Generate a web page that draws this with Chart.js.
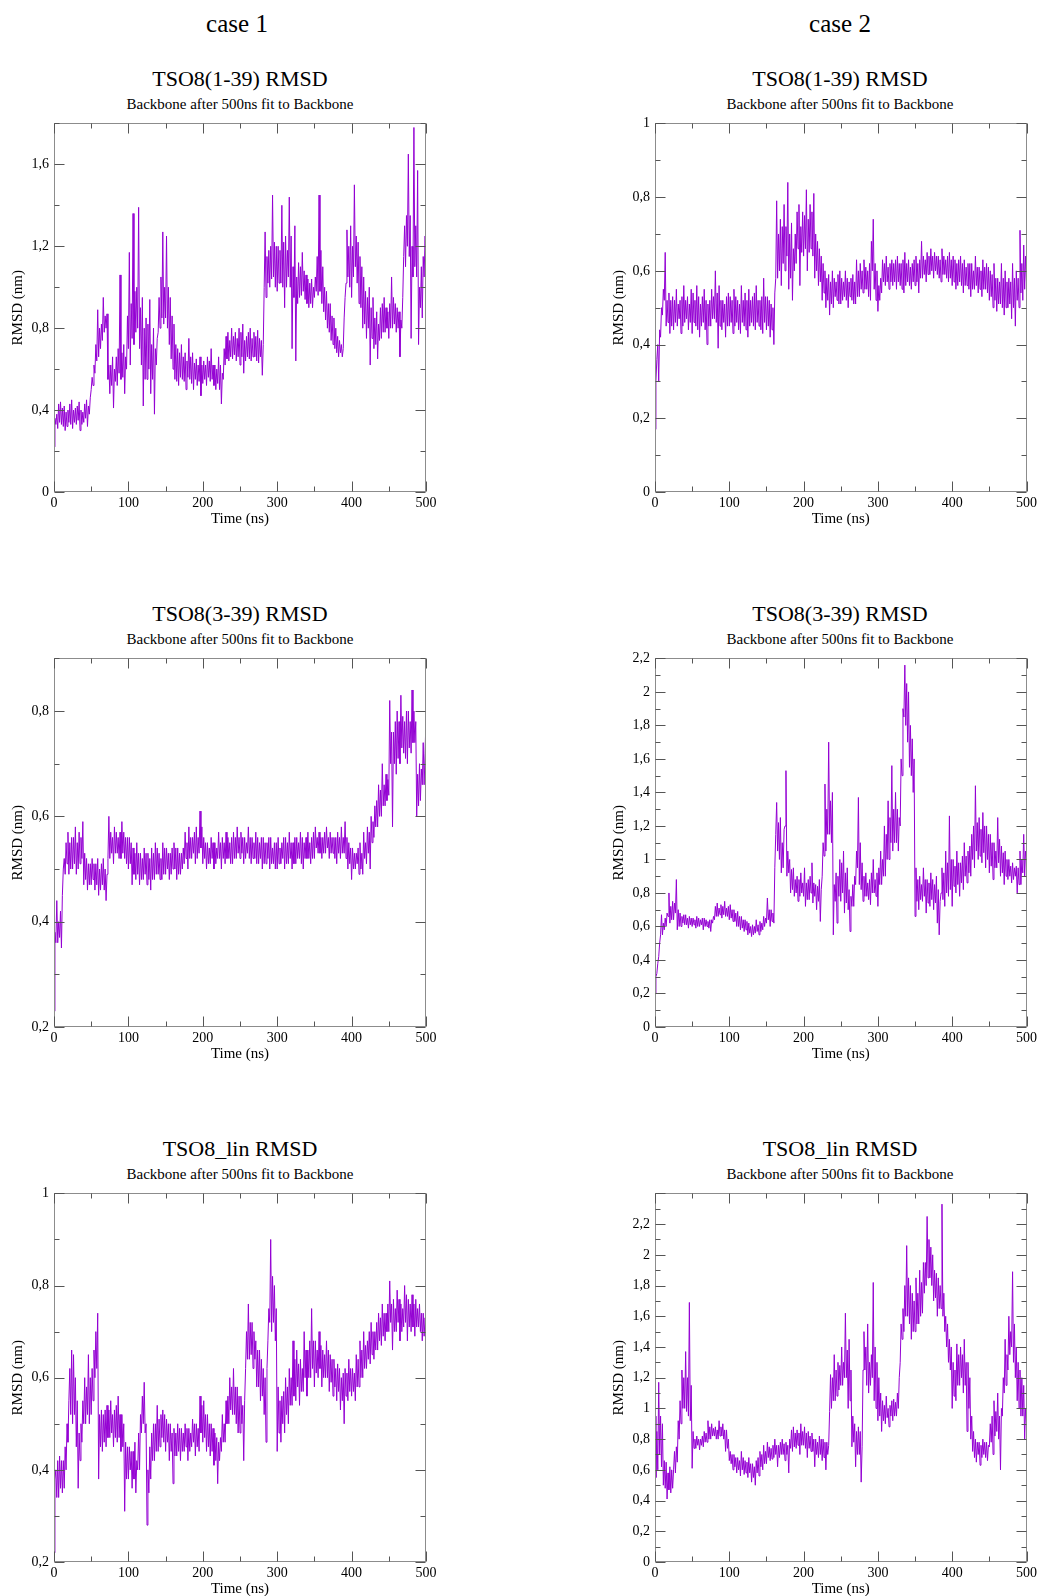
<!DOCTYPE html>
<html>
<head>
<meta charset="utf-8">
<script src="https://cdn.jsdelivr.net/npm/chart.js@4.4.0/dist/chart.umd.min.js"></script>
<style>
  body { margin: 0; background: #fff; }
  #page { position: relative; width: 1040px; height: 1596px; font-family: "Liberation Serif", "DejaVu Serif", serif; }
  .txt { position: absolute; width: 440px; text-align: center; line-height: 1; color: #000; white-space: nowrap; }
  canvas { position: absolute; }
</style>
</head>
<body>
<div id="page"></div>
<script>
// time grid of the trajectories (ns), one sample every 1.25 ns
const times = [];
for (let i = 0; i <= 400; i++) times.push(i * 1.25);

const xTicks = [0, 100, 200, 300, 400, 500];

// RMSD (nm); one row = 25 ns
const case1_1_39 = [
  0.22, 0.36, 0.33, 0.38, 0.31, 0.43, 0.34, 0.44, 0.33, 0.41, 0.32, 0.42, 0.30, 0.39, 0.32, 0.40, 0.34, 0.43, 0.33, 0.45,
  0.31, 0.40, 0.34, 0.41, 0.33, 0.42, 0.35, 0.44, 0.30, 0.40, 0.33, 0.39, 0.34, 0.43, 0.36, 0.45, 0.32, 0.42, 0.38, 0.46,
  0.50, 0.56, 0.52, 0.62, 0.58, 0.72, 0.64, 0.89, 0.66, 0.80, 0.70, 0.82, 0.74, 0.95, 0.78, 0.86, 0.80, 0.87, 0.55, 0.62,
  0.48, 0.62, 0.52, 0.66, 0.41, 0.60, 0.54, 0.66, 0.52, 0.70, 0.58, 1.06, 0.55, 0.68, 0.56, 0.72, 0.48, 0.66, 0.60, 0.86,
  0.70, 1.17, 0.62, 0.92, 0.75, 1.36, 0.72, 0.98, 0.78, 1.00, 0.80, 1.39, 0.70, 0.90, 0.62, 0.95, 0.42, 0.80, 0.55, 0.85,
  0.55, 0.82, 0.60, 0.94, 0.48, 0.72, 0.55, 0.80, 0.38, 0.70, 0.62, 0.75, 0.78, 0.95, 0.80, 1.05, 0.85, 1.27, 0.82, 1.00,
  0.85, 1.25, 0.80, 1.00, 0.72, 0.95, 0.65, 0.86, 0.60, 0.82, 0.55, 0.72, 0.54, 0.70, 0.52, 0.68, 0.56, 0.72, 0.55, 0.66,
  0.54, 0.68, 0.50, 0.64, 0.56, 0.75, 0.55, 0.66, 0.53, 0.68, 0.50, 0.63, 0.55, 0.65, 0.52, 0.62, 0.54, 0.66, 0.47, 0.62,
  0.53, 0.64, 0.55, 0.62, 0.52, 0.66, 0.56, 0.64, 0.54, 0.70, 0.55, 0.62, 0.52, 0.62, 0.50, 0.60, 0.53, 0.66, 0.50, 0.62,
  0.43, 0.58, 0.55, 0.70, 0.62, 0.76, 0.65, 0.78, 0.64, 0.74, 0.66, 0.80, 0.65, 0.76, 0.67, 0.78, 0.64, 0.75, 0.66, 0.80,
  0.62, 0.78, 0.66, 0.82, 0.58, 0.74, 0.64, 0.76, 0.66, 0.78, 0.65, 0.80, 0.64, 0.75, 0.66, 0.78, 0.66, 0.76, 0.64, 0.79,
  0.63, 0.75, 0.66, 0.74, 0.57, 0.72, 1.00, 1.27, 0.95, 1.15, 1.02, 1.18, 1.00, 1.20, 1.04, 1.45, 1.05, 1.22, 1.00, 1.20,
  0.98, 1.20, 1.02, 1.18, 1.02, 1.40, 1.00, 1.22, 0.90, 1.25, 1.00, 1.18, 1.05, 1.44, 1.00, 1.25, 0.70, 1.10, 0.95, 1.30,
  0.64, 1.05, 0.92, 1.12, 0.95, 1.10, 0.96, 1.17, 0.98, 1.08, 0.94, 1.06, 0.92, 1.04, 0.90, 1.02, 0.92, 1.04, 0.90, 1.00,
  0.95, 1.05, 0.98, 1.15, 0.96, 1.45, 0.98, 1.18, 0.92, 1.10, 0.88, 1.00, 0.84, 0.98, 0.80, 0.92, 0.78, 0.92, 0.74, 0.86,
  0.72, 0.85, 0.70, 0.80, 0.68, 0.76, 0.66, 0.74, 0.68, 0.72, 0.66, 0.70, 0.85, 0.95, 1.02, 1.28, 1.05, 1.20, 1.00, 1.30,
  0.95, 1.20, 1.05, 1.50, 1.10, 1.25, 1.02, 1.22, 0.92, 1.15, 0.90, 1.10, 0.80, 1.05, 0.82, 0.98, 0.75, 0.95, 0.80, 1.00,
  0.62, 0.90, 0.75, 0.95, 0.70, 0.85, 0.72, 0.88, 0.65, 0.82, 0.74, 0.90, 0.75, 0.92, 0.78, 0.95, 0.78, 0.90, 0.80, 0.88,
  0.75, 0.92, 0.80, 1.05, 0.80, 0.95, 0.82, 0.92, 0.78, 0.90, 0.80, 0.88, 0.66, 0.84, 0.80, 0.95, 1.15, 1.30, 1.10, 1.35,
  1.20, 1.65, 1.15, 1.35, 0.75, 1.20, 1.05, 1.78, 1.10, 1.30, 1.05, 1.57, 0.72, 1.00, 0.90, 1.10, 0.85, 1.15, 1.05, 1.25,
  1.10
];

const case2_1_39 = [
  0.17, 0.30, 0.36, 0.40, 0.30, 0.44, 0.42, 0.50, 0.48, 0.55, 0.52, 0.65, 0.45, 0.52, 0.46, 0.54, 0.43, 0.52, 0.45, 0.53,
  0.44, 0.52, 0.46, 0.55, 0.45, 0.51, 0.47, 0.52, 0.43, 0.53, 0.45, 0.56, 0.46, 0.52, 0.47, 0.53, 0.44, 0.51, 0.46, 0.55,
  0.43, 0.54, 0.46, 0.52, 0.45, 0.56, 0.44, 0.53, 0.42, 0.51, 0.45, 0.53, 0.46, 0.55, 0.44, 0.52, 0.40, 0.51, 0.45, 0.52,
  0.45, 0.55, 0.47, 0.53, 0.47, 0.60, 0.46, 0.54, 0.39, 0.56, 0.45, 0.52, 0.44, 0.52, 0.46, 0.51, 0.42, 0.53, 0.45, 0.54,
  0.45, 0.53, 0.46, 0.52, 0.43, 0.55, 0.45, 0.53, 0.46, 0.52, 0.44, 0.51, 0.43, 0.56, 0.46, 0.52, 0.45, 0.54, 0.44, 0.52,
  0.42, 0.55, 0.45, 0.52, 0.46, 0.53, 0.45, 0.54, 0.44, 0.56, 0.46, 0.52, 0.45, 0.52, 0.44, 0.53, 0.43, 0.58, 0.46, 0.53,
  0.44, 0.53, 0.45, 0.52, 0.42, 0.51, 0.44, 0.50, 0.40, 0.54, 0.58, 0.79, 0.58, 0.70, 0.60, 0.74, 0.56, 0.72, 0.62, 0.78,
  0.60, 0.72, 0.64, 0.84, 0.55, 0.70, 0.58, 0.73, 0.52, 0.66, 0.60, 0.70, 0.62, 0.76, 0.66, 0.78, 0.56, 0.72, 0.65, 0.76,
  0.64, 0.75, 0.66, 0.82, 0.60, 0.74, 0.65, 0.78, 0.66, 0.76, 0.64, 0.81, 0.58, 0.70, 0.60, 0.68, 0.56, 0.66, 0.57, 0.64,
  0.52, 0.62, 0.54, 0.60, 0.50, 0.58, 0.52, 0.59, 0.48, 0.57, 0.51, 0.60, 0.50, 0.58, 0.53, 0.57, 0.52, 0.59, 0.51, 0.60,
  0.51, 0.58, 0.52, 0.57, 0.53, 0.60, 0.52, 0.58, 0.50, 0.57, 0.53, 0.58, 0.52, 0.59, 0.51, 0.57, 0.51, 0.63, 0.53, 0.60,
  0.53, 0.62, 0.55, 0.60, 0.54, 0.63, 0.55, 0.61, 0.55, 0.60, 0.53, 0.62, 0.52, 0.68, 0.60, 0.74, 0.55, 0.62, 0.52, 0.60,
  0.49, 0.56, 0.52, 0.58, 0.54, 0.63, 0.57, 0.62, 0.56, 0.64, 0.57, 0.61, 0.55, 0.62, 0.57, 0.63, 0.56, 0.62, 0.57, 0.63,
  0.55, 0.64, 0.57, 0.62, 0.56, 0.62, 0.55, 0.63, 0.54, 0.65, 0.56, 0.62, 0.57, 0.63, 0.56, 0.61, 0.55, 0.62, 0.57, 0.63,
  0.56, 0.64, 0.57, 0.62, 0.54, 0.63, 0.58, 0.68, 0.58, 0.64, 0.59, 0.63, 0.57, 0.65, 0.59, 0.64, 0.59, 0.66, 0.60, 0.64,
  0.58, 0.65, 0.60, 0.64, 0.59, 0.64, 0.58, 0.63, 0.57, 0.66, 0.59, 0.64, 0.59, 0.63, 0.58, 0.64, 0.57, 0.65, 0.58, 0.63,
  0.56, 0.64, 0.57, 0.63, 0.55, 0.62, 0.56, 0.63, 0.57, 0.64, 0.56, 0.62, 0.54, 0.63, 0.56, 0.61, 0.56, 0.62, 0.55, 0.62,
  0.53, 0.62, 0.55, 0.60, 0.55, 0.64, 0.56, 0.61, 0.54, 0.61, 0.55, 0.60, 0.53, 0.63, 0.55, 0.61, 0.55, 0.62, 0.54, 0.61,
  0.52, 0.60, 0.53, 0.59, 0.50, 0.62, 0.52, 0.58, 0.49, 0.58, 0.51, 0.57, 0.51, 0.62, 0.50, 0.58, 0.48, 0.60, 0.50, 0.57,
  0.50, 0.58, 0.51, 0.57, 0.47, 0.62, 0.50, 0.58, 0.45, 0.60, 0.52, 0.58, 0.50, 0.71, 0.54, 0.62, 0.52, 0.67, 0.55, 0.64,
  0.57
];

const case1_3_39 = [
  0.23, 0.38, 0.36, 0.44, 0.36, 0.40, 0.37, 0.42, 0.35, 0.45, 0.50, 0.52, 0.49, 0.55, 0.51, 0.57, 0.49, 0.55, 0.50, 0.56,
  0.50, 0.56, 0.51, 0.58, 0.49, 0.55, 0.50, 0.57, 0.51, 0.56, 0.52, 0.59, 0.47, 0.53, 0.48, 0.52, 0.46, 0.51, 0.47, 0.51,
  0.47, 0.52, 0.48, 0.51, 0.46, 0.51, 0.47, 0.52, 0.45, 0.50, 0.46, 0.51, 0.47, 0.52, 0.46, 0.50, 0.44, 0.49, 0.52, 0.60,
  0.52, 0.57, 0.53, 0.56, 0.51, 0.58, 0.53, 0.57, 0.53, 0.56, 0.52, 0.57, 0.52, 0.59, 0.53, 0.57, 0.52, 0.56, 0.51, 0.56,
  0.50, 0.56, 0.51, 0.55, 0.47, 0.54, 0.49, 0.53, 0.48, 0.55, 0.49, 0.53, 0.47, 0.53, 0.48, 0.52, 0.48, 0.54, 0.49, 0.53,
  0.47, 0.53, 0.48, 0.52, 0.46, 0.54, 0.48, 0.53, 0.48, 0.55, 0.49, 0.54, 0.49, 0.53, 0.48, 0.52, 0.48, 0.55, 0.49, 0.54,
  0.49, 0.54, 0.50, 0.53, 0.48, 0.53, 0.49, 0.54, 0.50, 0.55, 0.50, 0.54, 0.48, 0.54, 0.49, 0.53, 0.49, 0.53, 0.50, 0.54,
  0.51, 0.57, 0.52, 0.55, 0.50, 0.58, 0.52, 0.56, 0.52, 0.56, 0.53, 0.57, 0.51, 0.58, 0.52, 0.56, 0.53, 0.61, 0.54, 0.58,
  0.51, 0.56, 0.52, 0.55, 0.50, 0.55, 0.51, 0.54, 0.51, 0.56, 0.52, 0.55, 0.50, 0.55, 0.51, 0.54, 0.52, 0.57, 0.52, 0.55,
  0.50, 0.56, 0.52, 0.55, 0.51, 0.57, 0.52, 0.56, 0.52, 0.55, 0.51, 0.56, 0.51, 0.57, 0.52, 0.56, 0.52, 0.58, 0.53, 0.56,
  0.52, 0.57, 0.53, 0.56, 0.51, 0.56, 0.52, 0.55, 0.53, 0.58, 0.52, 0.56, 0.51, 0.56, 0.52, 0.55, 0.52, 0.57, 0.51, 0.56,
  0.51, 0.55, 0.52, 0.56, 0.50, 0.56, 0.51, 0.55, 0.51, 0.55, 0.52, 0.56, 0.50, 0.56, 0.51, 0.54, 0.51, 0.55, 0.50, 0.55,
  0.50, 0.56, 0.51, 0.54, 0.51, 0.55, 0.52, 0.56, 0.50, 0.56, 0.51, 0.55, 0.51, 0.57, 0.52, 0.55, 0.50, 0.55, 0.51, 0.56,
  0.51, 0.56, 0.52, 0.55, 0.52, 0.57, 0.51, 0.56, 0.50, 0.55, 0.52, 0.56, 0.52, 0.57, 0.52, 0.55, 0.51, 0.56, 0.52, 0.57,
  0.52, 0.58, 0.54, 0.56, 0.53, 0.57, 0.53, 0.56, 0.52, 0.56, 0.53, 0.57, 0.53, 0.58, 0.54, 0.56, 0.52, 0.57, 0.53, 0.56,
  0.53, 0.56, 0.52, 0.56, 0.51, 0.57, 0.53, 0.56, 0.52, 0.58, 0.53, 0.56, 0.53, 0.59, 0.52, 0.56, 0.50, 0.55, 0.51, 0.54,
  0.48, 0.54, 0.50, 0.53, 0.50, 0.53, 0.51, 0.54, 0.49, 0.55, 0.50, 0.53, 0.49, 0.57, 0.52, 0.55, 0.51, 0.58, 0.53, 0.57,
  0.50, 0.60, 0.55, 0.59, 0.56, 0.62, 0.58, 0.63, 0.58, 0.66, 0.60, 0.65, 0.60, 0.70, 0.62, 0.66, 0.62, 0.68, 0.63, 0.67,
  0.64, 0.82, 0.70, 0.76, 0.58, 0.76, 0.70, 0.78, 0.68, 0.80, 0.71, 0.78, 0.70, 0.83, 0.73, 0.79, 0.72, 0.78, 0.71, 0.80,
  0.70, 0.80, 0.73, 0.78, 0.72, 0.84, 0.74, 0.80, 0.74, 0.78, 0.60, 0.68, 0.62, 0.70, 0.63, 0.69, 0.66, 0.74, 0.66, 0.72,
  0.79
];

const case2_3_39 = [
  0.20, 0.30, 0.32, 0.38, 0.42, 0.50, 0.55, 0.67, 0.55, 0.62, 0.58, 0.65, 0.60, 0.68, 0.66, 0.80, 0.62, 0.72, 0.64, 0.75,
  0.64, 0.74, 0.68, 0.88, 0.58, 0.70, 0.60, 0.68, 0.60, 0.66, 0.62, 0.67, 0.61, 0.67, 0.61, 0.65, 0.59, 0.66, 0.61, 0.65,
  0.60, 0.65, 0.61, 0.64, 0.59, 0.66, 0.60, 0.65, 0.60, 0.64, 0.61, 0.65, 0.58, 0.65, 0.60, 0.64, 0.60, 0.63, 0.59, 0.64,
  0.57, 0.64, 0.62, 0.66, 0.64, 0.72, 0.66, 0.74, 0.66, 0.71, 0.67, 0.73, 0.65, 0.72, 0.67, 0.75, 0.66, 0.71, 0.66, 0.72,
  0.64, 0.73, 0.65, 0.70, 0.63, 0.70, 0.63, 0.68, 0.60, 0.69, 0.60, 0.66, 0.58, 0.66, 0.59, 0.64, 0.57, 0.64, 0.58, 0.63,
  0.55, 0.62, 0.56, 0.60, 0.54, 0.61, 0.55, 0.60, 0.56, 0.64, 0.57, 0.61, 0.55, 0.63, 0.57, 0.62, 0.58, 0.66, 0.60, 0.65,
  0.62, 0.77, 0.64, 0.70, 0.60, 0.70, 0.63, 0.68, 0.62, 0.95, 1.15, 1.34, 1.05, 1.22, 1.00, 1.25, 0.92, 1.10, 0.95, 1.18,
  1.20, 1.53, 0.90, 1.05, 0.92, 1.00, 0.80, 0.94, 0.82, 0.95, 0.78, 0.88, 0.80, 0.90, 0.75, 0.88, 0.78, 0.92, 0.80, 0.86,
  0.78, 0.95, 0.72, 0.86, 0.76, 0.88, 0.76, 0.90, 0.80, 0.98, 0.74, 0.86, 0.78, 0.85, 0.70, 0.84, 0.75, 0.88, 0.63, 0.82,
  0.90, 1.10, 1.02, 1.45, 1.05, 1.30, 1.15, 1.70, 1.15, 1.35, 1.10, 1.40, 0.55, 0.85, 0.75, 0.92, 0.62, 0.90, 0.78, 1.00,
  0.75, 0.98, 0.80, 1.05, 0.68, 0.92, 0.74, 0.95, 0.70, 0.82, 0.57, 0.78, 0.72, 0.85, 0.72, 0.90, 0.85, 1.05, 0.95, 1.37,
  0.85, 1.10, 0.82, 0.98, 0.75, 0.90, 0.78, 0.92, 0.78, 0.86, 0.76, 0.88, 0.73, 0.92, 0.80, 1.00, 0.80, 0.88, 0.78, 0.92,
  0.72, 0.95, 0.85, 1.05, 0.85, 1.00, 0.90, 1.20, 0.90, 1.15, 1.00, 1.35, 1.00, 1.25, 1.10, 1.56, 1.05, 1.30, 1.10, 1.40,
  1.10, 1.30, 1.05, 1.25, 1.20, 1.60, 1.50, 1.90, 1.85, 2.16, 1.80, 2.05, 1.70, 2.00, 1.55, 1.80, 1.50, 1.72, 1.40, 1.60,
  0.66, 0.95, 0.75, 0.88, 0.70, 0.90, 0.76, 0.85, 0.75, 0.95, 0.78, 0.88, 0.68, 0.88, 0.74, 0.86, 0.72, 0.92, 0.76, 0.88,
  0.70, 0.85, 0.74, 0.90, 0.62, 0.82, 0.55, 0.75, 0.80, 0.95, 0.76, 0.92, 0.72, 1.05, 0.80, 0.98, 0.78, 1.26, 0.82, 1.00,
  0.72, 1.00, 0.84, 0.96, 0.80, 1.05, 0.85, 0.98, 0.78, 0.98, 0.86, 1.02, 0.82, 1.10, 0.90, 1.02, 0.86, 1.05, 0.92, 1.08,
  0.90, 1.15, 1.00, 1.20, 0.95, 1.44, 1.05, 1.22, 1.00, 1.25, 1.02, 1.18, 0.98, 1.28, 1.04, 1.20, 0.95, 1.20, 1.00, 1.15,
  0.92, 1.15, 0.96, 1.10, 0.88, 1.10, 0.95, 1.05, 0.95, 1.25, 0.98, 1.12, 0.90, 1.08, 0.92, 1.04, 0.85, 1.05, 0.90, 1.00,
  0.88, 1.00, 0.90, 0.96, 0.86, 0.98, 0.88, 0.95, 0.90, 0.96, 0.80, 0.95, 0.85, 1.05, 0.85, 1.00, 0.92, 1.15, 0.90, 1.05,
  1.00
];

const case1_lin = [
  0.22, 0.38, 0.40, 0.34, 0.42, 0.34, 0.43, 0.36, 0.42, 0.35, 0.42, 0.36, 0.45, 0.40, 0.50, 0.46, 0.55, 0.62, 0.52, 0.66,
  0.50, 0.65, 0.52, 0.60, 0.45, 0.55, 0.36, 0.48, 0.42, 0.50, 0.46, 0.55, 0.50, 0.60, 0.50, 0.58, 0.52, 0.65, 0.50, 0.60,
  0.52, 0.62, 0.55, 0.66, 0.60, 0.70, 0.62, 0.74, 0.38, 0.52, 0.45, 0.53, 0.44, 0.52, 0.46, 0.53, 0.45, 0.54, 0.47, 0.53,
  0.47, 0.55, 0.48, 0.52, 0.45, 0.53, 0.47, 0.54, 0.46, 0.56, 0.47, 0.52, 0.44, 0.52, 0.45, 0.50, 0.31, 0.46, 0.38, 0.45,
  0.38, 0.45, 0.40, 0.44, 0.36, 0.44, 0.38, 0.46, 0.35, 0.42, 0.40, 0.48, 0.40, 0.52, 0.48, 0.56, 0.50, 0.59, 0.48, 0.50,
  0.28, 0.40, 0.35, 0.45, 0.38, 0.48, 0.42, 0.50, 0.42, 0.50, 0.44, 0.54, 0.44, 0.51, 0.45, 0.52, 0.47, 0.53, 0.46, 0.52,
  0.44, 0.51, 0.46, 0.50, 0.42, 0.50, 0.44, 0.48, 0.37, 0.49, 0.43, 0.48, 0.43, 0.50, 0.44, 0.49, 0.42, 0.49, 0.44, 0.48,
  0.44, 0.50, 0.45, 0.49, 0.42, 0.49, 0.44, 0.48, 0.45, 0.51, 0.46, 0.50, 0.43, 0.50, 0.45, 0.49, 0.44, 0.56, 0.48, 0.54,
  0.46, 0.55, 0.47, 0.52, 0.44, 0.52, 0.45, 0.50, 0.43, 0.50, 0.44, 0.49, 0.41, 0.48, 0.42, 0.47, 0.37, 0.46, 0.42, 0.47,
  0.44, 0.52, 0.46, 0.50, 0.46, 0.55, 0.50, 0.56, 0.50, 0.60, 0.53, 0.58, 0.52, 0.62, 0.52, 0.58, 0.50, 0.58, 0.48, 0.56,
  0.48, 0.56, 0.50, 0.54, 0.42, 0.55, 0.62, 0.70, 0.64, 0.76, 0.64, 0.72, 0.65, 0.72, 0.62, 0.70, 0.64, 0.68, 0.58, 0.66,
  0.58, 0.66, 0.55, 0.64, 0.56, 0.62, 0.52, 0.60, 0.46, 0.62, 0.68, 0.75, 0.72, 0.90, 0.70, 0.82, 0.72, 0.80, 0.68, 0.75,
  0.44, 0.58, 0.48, 0.55, 0.46, 0.56, 0.50, 0.57, 0.48, 0.60, 0.52, 0.58, 0.50, 0.62, 0.54, 0.60, 0.54, 0.68, 0.56, 0.64,
  0.55, 0.66, 0.58, 0.63, 0.54, 0.64, 0.57, 0.62, 0.57, 0.70, 0.60, 0.66, 0.56, 0.66, 0.60, 0.68, 0.60, 0.75, 0.62, 0.68,
  0.58, 0.68, 0.61, 0.66, 0.60, 0.70, 0.62, 0.67, 0.58, 0.66, 0.60, 0.65, 0.60, 0.68, 0.60, 0.66, 0.57, 0.65, 0.59, 0.64,
  0.56, 0.64, 0.58, 0.62, 0.55, 0.63, 0.57, 0.62, 0.53, 0.60, 0.55, 0.61, 0.50, 0.62, 0.56, 0.61, 0.55, 0.64, 0.57, 0.62,
  0.56, 0.62, 0.57, 0.61, 0.55, 0.65, 0.58, 0.64, 0.58, 0.68, 0.60, 0.66, 0.60, 0.70, 0.62, 0.67, 0.62, 0.68, 0.64, 0.70,
  0.63, 0.72, 0.65, 0.70, 0.64, 0.70, 0.66, 0.72, 0.66, 0.74, 0.68, 0.73, 0.67, 0.76, 0.69, 0.74, 0.68, 0.74, 0.70, 0.76,
  0.70, 0.81, 0.72, 0.76, 0.66, 0.77, 0.70, 0.75, 0.70, 0.79, 0.72, 0.77, 0.68, 0.76, 0.70, 0.75, 0.71, 0.80, 0.72, 0.78,
  0.68, 0.77, 0.71, 0.76, 0.70, 0.78, 0.71, 0.76, 0.69, 0.77, 0.71, 0.75, 0.71, 0.76, 0.70, 0.74, 0.68, 0.74, 0.69, 0.73,
  0.70
];

const case2_lin = [
  0.95, 0.55, 0.85, 0.60, 1.17, 0.70, 0.95, 0.62, 0.90, 0.50, 0.66, 0.48, 0.65, 0.41, 0.58, 0.47, 0.62, 0.45, 0.60, 0.48,
  0.60, 0.72, 0.58, 0.75, 0.65, 0.92, 0.80, 1.05, 0.90, 1.25, 1.00, 1.20, 1.00, 1.37, 0.98, 1.20, 0.95, 1.69, 0.92, 1.15,
  0.61, 0.85, 0.74, 0.80, 0.74, 0.82, 0.76, 0.80, 0.73, 0.80, 0.76, 0.82, 0.75, 0.85, 0.78, 0.84, 0.78, 0.92, 0.80, 0.88,
  0.80, 0.90, 0.82, 0.87, 0.82, 0.88, 0.80, 0.86, 0.80, 0.92, 0.82, 0.88, 0.82, 0.90, 0.80, 0.86, 0.72, 0.86, 0.74, 0.80,
  0.66, 0.72, 0.64, 0.70, 0.60, 0.70, 0.62, 0.68, 0.58, 0.68, 0.60, 0.66, 0.56, 0.72, 0.60, 0.68, 0.57, 0.66, 0.58, 0.65,
  0.55, 0.68, 0.58, 0.64, 0.52, 0.64, 0.55, 0.62, 0.50, 0.66, 0.58, 0.68, 0.56, 0.72, 0.62, 0.70, 0.60, 0.76, 0.64, 0.72,
  0.64, 0.78, 0.68, 0.75, 0.66, 0.74, 0.67, 0.76, 0.68, 0.80, 0.70, 0.76, 0.62, 0.76, 0.68, 0.78, 0.70, 0.80, 0.70, 0.77,
  0.66, 0.78, 0.70, 0.76, 0.58, 0.80, 0.74, 0.86, 0.72, 0.88, 0.75, 0.84, 0.74, 0.86, 0.76, 0.84, 0.70, 0.90, 0.76, 0.85,
  0.76, 0.88, 0.74, 0.84, 0.68, 0.85, 0.74, 0.82, 0.72, 0.84, 0.72, 0.80, 0.62, 0.80, 0.70, 0.78, 0.68, 0.82, 0.70, 0.80,
  0.66, 0.80, 0.68, 0.78, 0.60, 0.78, 0.70, 0.76, 0.98, 1.22, 1.00, 1.20, 1.05, 1.35, 1.05, 1.25, 1.08, 1.30, 1.12, 1.28,
  1.15, 1.40, 1.15, 1.30, 1.20, 1.62, 1.20, 1.38, 1.00, 1.45, 1.05, 1.25, 0.75, 0.95, 0.78, 0.90, 0.62, 0.85, 0.70, 0.88,
  0.70, 0.85, 0.52, 0.75, 1.25, 1.50, 1.25, 1.40, 1.15, 1.55, 1.10, 1.30, 1.15, 1.35, 1.20, 1.82, 1.05, 1.40, 1.00, 1.30,
  0.92, 1.20, 0.95, 1.10, 0.85, 1.05, 0.92, 1.02, 0.90, 1.08, 0.94, 1.00, 0.88, 1.02, 0.95, 1.05, 0.92, 1.06, 0.95, 1.04,
  0.95, 1.10, 1.00, 1.20, 1.30, 1.55, 1.45, 1.65, 1.50, 1.80, 1.60, 2.06, 1.60, 1.85, 1.55, 1.80, 1.45, 1.75, 1.50, 1.70,
  1.50, 1.85, 1.55, 1.75, 1.55, 1.90, 1.60, 1.82, 1.62, 1.95, 1.75, 1.95, 1.80, 2.25, 1.85, 2.10, 1.85, 2.05, 1.80, 2.00,
  1.70, 1.90, 1.72, 1.88, 1.60, 1.85, 1.65, 1.80, 1.65, 2.33, 1.60, 1.75, 1.50, 1.60, 1.40, 1.55, 1.30, 1.45, 1.25, 1.40,
  1.00, 1.30, 1.08, 1.25, 1.05, 1.42, 1.15, 1.35, 1.15, 1.40, 1.20, 1.35, 1.10, 1.45, 1.15, 1.30, 0.85, 1.30, 1.00, 1.20,
  0.80, 0.95, 0.72, 0.85, 0.68, 0.80, 0.65, 0.78, 0.70, 0.78, 0.63, 0.76, 0.68, 0.80, 0.70, 0.78, 0.68, 0.78, 0.66, 0.76,
  0.75, 0.90, 0.78, 0.95, 0.70, 1.05, 0.82, 0.98, 0.85, 1.10, 0.80, 0.95, 0.60, 1.00, 0.95, 1.20, 1.10, 1.45, 1.15, 1.35,
  1.25, 1.60, 1.35, 1.50, 1.40, 1.89, 1.30, 1.55, 1.20, 1.40, 1.05, 1.30, 1.00, 1.25, 0.95, 1.20, 0.95, 1.15, 0.80, 1.00,
  0.90
];

// labelled y ticks per panel
const yTicks1 = [0, 0.4, 0.8, 1.2, 1.6];
const yTicks2 = [0, 0.2, 0.4, 0.6, 0.8, 1];
const yTicks3 = [0.2, 0.4, 0.6, 0.8];
const yTicks4 = [0, 0.2, 0.4, 0.6, 0.8, 1, 1.2, 1.4, 1.6, 1.8, 2, 2.2];
const yTicks5 = [0.2, 0.4, 0.6, 0.8, 1];
const yTicks6 = [0, 0.2, 0.4, 0.6, 0.8, 1, 1.2, 1.4, 1.6, 1.8, 2, 2.2];

const columnTitles = ['case 1', 'case 2'];
const subtitle = 'Backbone after 500ns fit to Backbone';

const panels = [
  { title: 'TSO8(1-39) RMSD', data: case1_1_39, min: 0,   max: 1.8, ticks: yTicks1, major: 0.4, minor: 0.2, col: 0, row: 0 },
  { title: 'TSO8(1-39) RMSD', data: case2_1_39, min: 0,   max: 1,   ticks: yTicks2, major: 0.2, minor: 0.1, col: 1, row: 0 },
  { title: 'TSO8(3-39) RMSD', data: case1_3_39, min: 0.2, max: 0.9, ticks: yTicks3, major: 0.2, minor: 0.1, col: 0, row: 1 },
  { title: 'TSO8(3-39) RMSD', data: case2_3_39, min: 0,   max: 2.2, ticks: yTicks4, major: 0.2, minor: 0.1, col: 1, row: 1 },
  { title: 'TSO8_lin RMSD',   data: case1_lin,  min: 0.2, max: 1,   ticks: yTicks5, major: 0.2, minor: 0.1, col: 0, row: 2 },
  { title: 'TSO8_lin RMSD',   data: case2_lin,  min: 0,   max: 2.4, ticks: yTicks6, major: 0.2, minor: 0.1, col: 1, row: 2 }
];

const FONT = '"Liberation Serif", "DejaVu Serif", serif';
const LINE = '#9400d3';
const colLeft = [0, 601];
const colCenter = [240, 840];
const plotTop = [120, 655, 1190];

const fmt = v => String(Math.round(v * 10) / 10).replace('.', ',');

// xmgrace-like frame with inward ticks on all four sides
const graceFrame = {
  id: 'graceFrame',
  afterDatasetsDraw(chart, args, o) {
    const { ctx, chartArea: a, scales: { x, y } } = chart;
    ctx.save();
    ctx.lineWidth = 1;
    ctx.strokeStyle = '#8c8c8c';
    const L = Math.round(a.left) + 0.5, R = Math.round(a.right) - 0.5;
    const T = Math.round(a.top) + 0.5, B = Math.round(a.bottom) - 0.5;
    ctx.strokeRect(L, T, R - L, B - T);
    ctx.strokeStyle = '#555';
    ctx.beginPath();
    for (let v = 0; v <= 500; v += 50) {
      const px = Math.round(x.getPixelForValue(v)) + 0.5;
      const len = v % 100 === 0 ? 10 : 5;
      ctx.moveTo(px, B); ctx.lineTo(px, B - len);
      ctx.moveTo(px, T); ctx.lineTo(px, T + len);
    }
    const n = Math.round((o.max - o.min) / o.minor);
    for (let i = 0; i <= n; i++) {
      const v = o.min + i * o.minor;
      const py = Math.round(y.getPixelForValue(v)) + 0.5;
      const r = v / o.major;
      const len = Math.abs(r - Math.round(r)) < 1e-6 ? 10 : 5;
      ctx.moveTo(L, py); ctx.lineTo(L + len, py);
      ctx.moveTo(R, py); ctx.lineTo(R - len, py);
    }
    ctx.stroke();
    ctx.restore();
  }
};

const page = document.getElementById('page');

function addText(text, size, centerX, baseline) {
  const d = document.createElement('div');
  d.className = 'txt';
  d.textContent = text;
  d.style.fontSize = size + 'px';
  d.style.left = (centerX - 220) + 'px';
  d.style.top = (baseline - 0.8375 * size) + 'px';
  page.appendChild(d);
}

addText(columnTitles[0], 25, 237, 32);
addText(columnTitles[1], 25, 840, 32);

panels.forEach(p => {
  const top = plotTop[p.row];
  addText(p.title, 22, colCenter[p.col], top - 34);
  addText(subtitle, 15, colCenter[p.col], top - 10);

  const cv = document.createElement('canvas');
  const w = p.col === 0 ? 440 : 439;
  cv.width = w; cv.height = 420;
  cv.style.width = w + 'px'; cv.style.height = '420px';
  cv.style.left = colLeft[p.col] + 'px';
  cv.style.top = (top - 10) + 'px';
  page.appendChild(cv);

  new Chart(cv.getContext('2d'), {
    type: 'line',
    data: {
      labels: times,
      datasets: [{
        data: p.data,
        borderColor: LINE,
        borderWidth: 1,
        pointRadius: 0,
        tension: 0,
        fill: false
      }]
    },
    options: {
      responsive: false,
      animation: false,
      layout: { padding: { top: 10, right: w - 426, left: 0, bottom: 0 } },
      plugins: {
        legend: { display: false },
        tooltip: { enabled: false },
        graceFrame: { min: p.min, max: p.max, major: p.major, minor: p.minor }
      },
      scales: {
        x: {
          type: 'linear',
          min: 0, max: 500,
          afterBuildTicks: s => { s.ticks = xTicks.map(v => ({ value: v })); },
          afterFit: s => { s.height = 38; },
          grid: { display: false, drawTicks: false },
          border: { display: false },
          ticks: { padding: 3, color: '#000', maxRotation: 0, autoSkip: false, font: { family: FONT, size: 14 } },
          title: { display: true, text: 'Time (ns)', color: '#000', font: { family: FONT, size: 15 }, padding: { top: 0, bottom: 2 } }
        },
        y: {
          min: p.min, max: p.max,
          afterBuildTicks: s => { s.ticks = p.ticks.map(v => ({ value: v })); },
          afterFit: s => { s.width = 54; },
          grid: { display: false, drawTicks: false },
          border: { display: false },
          ticks: { padding: 5, color: '#000', font: { family: FONT, size: 14 }, callback: v => fmt(v) },
          title: { display: true, text: 'RMSD (nm)', color: '#000', font: { family: FONT, size: 15 }, padding: { top: 9, bottom: 0 } }
        }
      }
    },
    plugins: [graceFrame]
  });
});
</script>
</body>
</html>
